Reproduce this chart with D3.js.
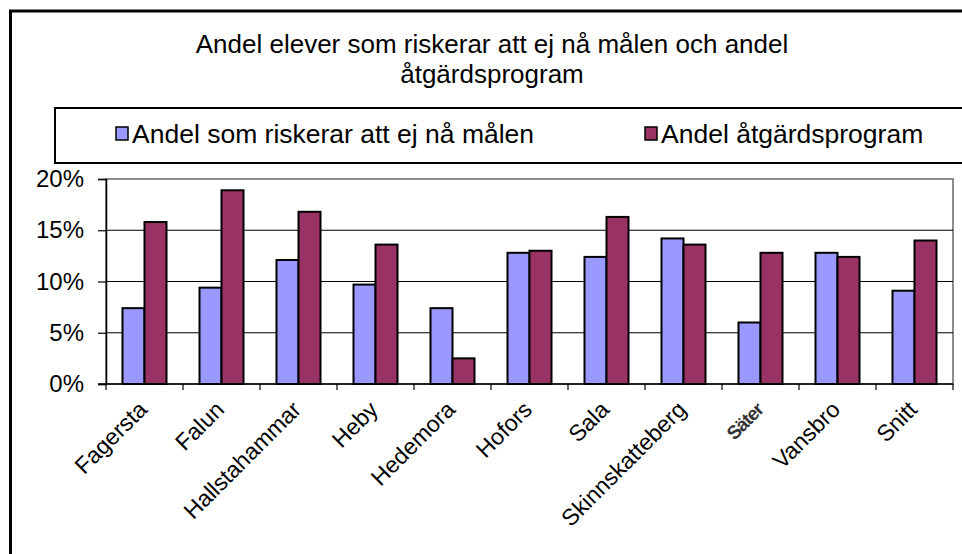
<!DOCTYPE html>
<html>
<head>
<meta charset="utf-8">
<script src="https://cdn.jsdelivr.net/npm/d3@7"></script>
<style>
  html, body { margin: 0; padding: 0; background: #fff; }
  svg { display: block; font-family: "Liberation Sans", Arial, sans-serif; }
</style>
</head>
<body>
<svg id="chart" width="962" height="554"></svg>
<script>
const categories = ["Fagersta", "Falun", "Hallstahammar", "Heby", "Hedemora", "Hofors", "Sala", "Skinnskatteberg", "Säter", "Vansbro", "Snitt"];
const seriesNames = ["Andel som riskerar att ej nå målen", "Andel åtgärdsprogram"];
const riskValues = [7.4, 9.4, 12.1, 9.7, 7.4, 12.8, 12.4, 14.2, 6.0, 12.8, 9.1];
const programValues = [15.8, 18.9, 16.8, 13.6, 2.5, 13.0, 16.3, 13.6, 12.8, 12.4, 14.0];
const yTicks = [0, 5, 10, 15, 20];
const titleLines = ["Andel elever som riskerar att ej nå målen och andel", "åtgärdsprogram"];
const colors = ["#9999FF", "#993366"];

const svg = d3.select("#chart");
const W = 962, H = 554;
const plot = { left: 106, right: 953, top: 179, bottom: 384 };

// outer frame (extends beyond picture at right and bottom)
svg.append("rect").attr("x", 10.5).attr("y", 11).attr("width", W + 20).attr("height", H + 20)
  .attr("fill", "#fff").attr("stroke", "#000").attr("stroke-width", 3);

// title
svg.append("g").selectAll("text").data(titleLines).join("text")
  .attr("x", 492).attr("y", (d, i) => 53 + i * 30)
  .attr("text-anchor", "middle").attr("font-size", 26).attr("fill", "#000")
  .text(d => d);

// legend
const legend = svg.append("g");
legend.append("rect").attr("x", 55).attr("y", 108).attr("width", W).attr("height", 55)
  .attr("fill", "#fff").attr("stroke", "#000").attr("stroke-width", 2);
const legendX = [116, 645];
const li = legend.selectAll("g.item").data(seriesNames).join("g").attr("class", "item")
  .attr("transform", (d, i) => `translate(${legendX[i]},0)`);
li.append("rect").attr("x", 0).attr("y", 127).attr("width", 12).attr("height", 13)
  .attr("fill", (d, i) => colors[i]).attr("stroke", "#000").attr("stroke-width", 1.5);
li.append("text").attr("x", 16).attr("y", 143).attr("font-size", 26.5).attr("fill", "#000").text(d => d);

// scales
const x = d3.scaleBand().domain(categories).range([plot.left, plot.right]).paddingInner(0).paddingOuter(0);
const x1 = d3.scaleBand().domain(seriesNames).range([0, x.bandwidth()]).paddingInner(0).paddingOuter(0.75);
const y = d3.scaleLinear().domain([0, 20]).range([plot.bottom, plot.top]);

// plot background & border (top/right gray)
svg.append("rect").attr("x", plot.left).attr("y", plot.top)
  .attr("width", plot.right - plot.left).attr("height", plot.bottom - plot.top)
  .attr("fill", "#fff").attr("stroke", "#8c8c8c").attr("stroke-width", 2);

// gridlines
svg.append("g").selectAll("line").data(yTicks.filter(t => t > 0 && t < 20)).join("line")
  .attr("x1", plot.left).attr("x2", plot.right)
  .attr("y1", d => y(d)).attr("y2", d => y(d))
  .attr("stroke", "#000").attr("stroke-width", 1);

// bars
const rows = categories.map((c, i) => ({ c, vals: [riskValues[i], programValues[i]] }));
const groups = svg.append("g").selectAll("g").data(rows).join("g")
  .attr("transform", d => `translate(${x(d.c)},0)`);
groups.selectAll("rect").data(d => d.vals.map((v, k) => ({ name: seriesNames[k], v, k }))).join("rect")
  .attr("x", d => x1(d.name)).attr("width", x1.bandwidth())
  .attr("y", d => y(d.v)).attr("height", d => y(0) - y(d.v))
  .attr("fill", d => colors[d.k]).attr("stroke", "#000").attr("stroke-width", 2);

// y axis
const yAxis = svg.append("g").attr("transform", `translate(${plot.left},0)`)
  .call(d3.axisLeft(y).tickValues(yTicks).tickFormat(d => d + "%").tickSize(8).tickPadding(14));
yAxis.select(".domain").attr("stroke", "#000").attr("stroke-width", 1.5);
yAxis.selectAll(".tick line").attr("stroke", "#000").attr("stroke-width", 1.2);
yAxis.selectAll(".tick text").attr("font-size", 24).attr("fill", "#000")
  .attr("font-family", "'Liberation Sans', Arial, sans-serif");

// x axis baseline and boundary ticks
const xAxis = svg.append("g");
xAxis.append("line").attr("x1", plot.left - 8).attr("x2", plot.right)
  .attr("y1", y(0)).attr("y2", y(0)).attr("stroke", "#000").attr("stroke-width", 1.5);
const edges = categories.map(c => x(c)).concat([x(categories[categories.length - 1]) + x.bandwidth()]);
xAxis.selectAll("line.tk").data(edges).join("line").attr("class", "tk")
  .attr("x1", d => d).attr("x2", d => d).attr("y1", y(0)).attr("y2", y(0) + 6)
  .attr("stroke", "#000").attr("stroke-width", 1.2);

// x labels rotated
xAxis.selectAll("text").data(categories).join("text")
  .attr("transform", d => `translate(${x(d) + x.bandwidth() / 2 + 4},${y(0) + 27}) rotate(-45)`)
  .attr("text-anchor", "end")
  .attr("fill", d => d === "Säter" ? "#333" : "#000")
  .attr("font-size", d => d === "Säter" ? 19 : 23)
  .attr("font-weight", d => d === "Säter" ? "bold" : "normal")
  .attr("letter-spacing", d => d === "Säter" ? -1 : 0)
  .text(d => d);
</script>
</body>
</html>
